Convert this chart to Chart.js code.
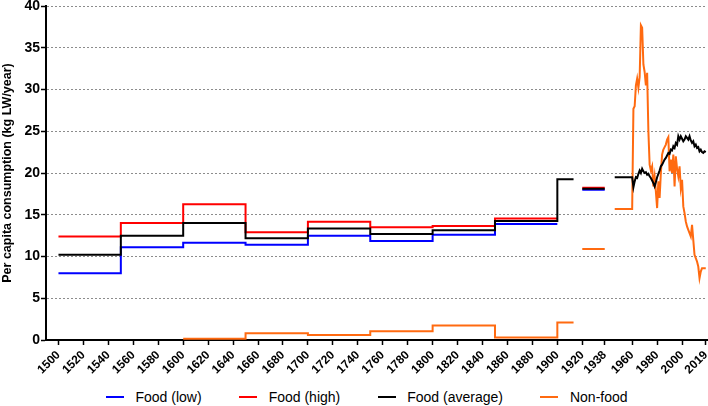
<!DOCTYPE html>
<html>
<head>
<meta charset="utf-8">
<script src="https://cdn.jsdelivr.net/npm/chart.js@4.4.1/dist/chart.umd.min.js"></script>
<style>
  html, body { margin: 0; padding: 0; background: #fff; }
  #wrap { width: 708px; height: 388px; position: relative; }
  #legend {
    width: 708px; height: 18px;
    display: flex; align-items: center;
    padding-left: 106px; box-sizing: border-box;
    font-family: 'Liberation Sans', Arial, sans-serif; font-size: 14px; color: #000;
  }
  #legend .item { display: flex; align-items: center; margin-right: 37.5px; }
  #legend .swatch { width: 18px; height: 2px; margin-right: 11.5px; }
</style>
</head>
<body>
<div id="wrap"><canvas id="chart"></canvas></div>
<div id="legend"></div>
<script>
// Historical periods (step values), then yearly data from 1961
const periodStarts = [1500, 1550, 1600, 1650, 1700, 1750, 1800, 1850, 1900, 1920, 1946];
const periodEnds   = [1550, 1600, 1650, 1700, 1750, 1800, 1850, 1900, 1913, 1938, 1960];

const foodLow  = [8.0, 11.1, 11.65, 11.4, 12.5, 11.85, 12.6, 13.9, null, 18.0, null];
const foodHigh = [12.4, 14.0, 16.25, 12.9, 14.15, 13.5, 13.65, 14.55, null, 18.22, null];
const foodAvg  = [10.2, 12.5, 14.0, 12.2, 13.35, 12.7, 13.15, 14.25, 19.25, 18.1, 19.5];
const nonFood  = [null, null, 0.15, 0.8, 0.6, 1.05, 1.75, 0.3, 2.1, 10.9, 15.7];

const annualStart = 1961;
const foodAvgAnnual = [
  18.3, 19.0, 19.5, 19.4, 19.9, 20.3, 20.0, 20.5, 20.2, 20.0,
  20.1, 19.8, 19.9, 19.6, 19.4, 19.1, 18.8, 18.4, 18.9, 19.5,
  19.9, 20.3, 20.8, 21.0, 21.3, 21.6, 21.8, 22.1, 22.4, 22.3,
  22.8, 22.7, 23.2, 23.0, 23.6, 23.4, 24.4, 24.0, 24.4, 24.1,
  23.8, 24.0, 24.4, 24.2, 24.0, 24.4, 23.9, 23.6, 23.8, 23.2,
  23.4, 23.0, 23.1, 22.6, 22.8, 22.5, 22.4, 22.6, 22.5
];
const nonFoodAnnual = [
  27.7, 28.0, 30.5, 31.3, 30.2, 31.5, 37.7, 37.4, 33.0, 32.1,
  30.5, 32.0, 25.0, 21.0, 20.3, 20.8, 18.4, 19.6, 17.8, 15.8,
  19.0, 17.0, 20.0, 22.2, 22.8, 23.1, 23.4, 24.0, 24.3, 20.2,
  21.6, 20.0, 22.2, 18.4, 22.0, 20.5, 19.6, 20.8, 18.2, 19.2,
  16.0, 15.2, 14.2, 13.6, 13.2, 12.8, 12.4, 13.8, 12.0, 10.2,
  9.8, 9.4, 8.8, 7.4, 8.2, 8.6, 8.6, 8.6, 8.6
];

const xTicks = [1500, 1520, 1540, 1560, 1580, 1600, 1620, 1640, 1660, 1680, 1700,
  1720, 1740, 1760, 1780, 1800, 1820, 1840, 1860, 1880, 1900, 1920, 1938,
  1960, 1980, 2000, 2019];

// turn period values into step points, breaking the line at gaps
function buildPoints(values, annual) {
  const pts = [];
  let prevEnd = null;
  for (let i = 0; i < periodStarts.length; i++) {
    const v = values[i];
    if (v === null) continue;
    if (prevEnd !== null && prevEnd !== periodStarts[i]) {
      pts.push({ x: prevEnd, y: null });
    }
    pts.push({ x: periodStarts[i], y: v });
    pts.push({ x: periodEnds[i], y: v });
    prevEnd = periodEnds[i];
  }
  if (annual) {
    annual.forEach((v, i) => pts.push({ x: annualStart + i, y: v }));
  }
  return pts;
}

function dataset(label, points, color, order) {
  return {
    label: label,
    data: points,
    borderColor: color,
    backgroundColor: color,
    borderWidth: 2,
    pointRadius: 0,
    tension: 0,
    spanGaps: false,
    order: order
  };
}

const ctx = document.getElementById('chart').getContext('2d');
const chart = new Chart(ctx, {
  type: 'line',
  data: {
    datasets: [
      dataset('Food (low)', buildPoints(foodLow), '#0000ff', 3),
      dataset('Food (high)', buildPoints(foodHigh), '#ff0000', 2),
      dataset('Food (average)', buildPoints(foodAvg, foodAvgAnnual), '#000000', 0),
      dataset('Non-food', buildPoints(nonFood, nonFoodAnnual), '#ff6a10', 1)
    ]
  },
  options: {
    responsive: true,
    maintainAspectRatio: false,
    animation: false,
    layout: { padding: { top: 6, right: 1, left: 0, bottom: 0 } },
    plugins: {
      tooltip: { enabled: false },
      legend: { display: false }
    },
    scales: {
      x: {
        type: 'linear',
        min: 1490,
        max: 2020,
        afterBuildTicks(scale) {
          scale.ticks = xTicks.map(v => ({ value: v }));
        },
        afterFit(scale) {
          scale.height = 48;
          scale.paddingLeft = 0;
          scale.paddingRight = 0;
        },
        ticks: {
          autoSkip: false,
          minRotation: 45,
          maxRotation: 45,
          padding: 3,
          color: '#000',
          font: { family: 'Liberation Sans, Arial', size: 12, weight: 'bold' },
          callback: v => String(v)
        },
        grid: {
          drawOnChartArea: false,
          drawTicks: true,
          tickLength: 5,
          tickColor: '#000',
          tickWidth: 1.5
        },
        border: { display: true, color: '#000', width: 2 }
      },
      y: {
        min: 0,
        max: 40,
        afterFit(scale) {
          scale.width = 46;
          scale.paddingTop = 0;
          scale.paddingBottom = 0;
        },
        ticks: {
          stepSize: 5,
          padding: 1,
          color: '#000',
          font: { family: 'Liberation Sans, Arial', size: 14, weight: 'bold' }
        },
        grid: {
          color: '#8c8c8c',
          lineWidth: 1,
          drawTicks: true,
          tickLength: 5,
          tickColor: '#000',
          tickWidth: 1.5,
          tickBorderDash: []
        },
        border: { display: true, color: '#000', width: 2, dash: [2, 2] },
        title: {
          display: true,
          text: 'Per capita consumption (kg LW/year)',
          color: '#000',
          padding: { top: 0, bottom: 2 },
          font: { family: 'Liberation Sans, Arial', size: 12.5, weight: 'bold' }
        }
      }
    }
  }
});

// legend below the canvas
const legend = document.getElementById('legend');
chart.data.datasets.forEach(ds => {
  const item = document.createElement('div');
  item.className = 'item';
  item.innerHTML = '<span class="swatch" style="background:' + ds.borderColor + '"></span><span>' + ds.label + '</span>';
  legend.appendChild(item);
});
</script>
</body>
</html>
